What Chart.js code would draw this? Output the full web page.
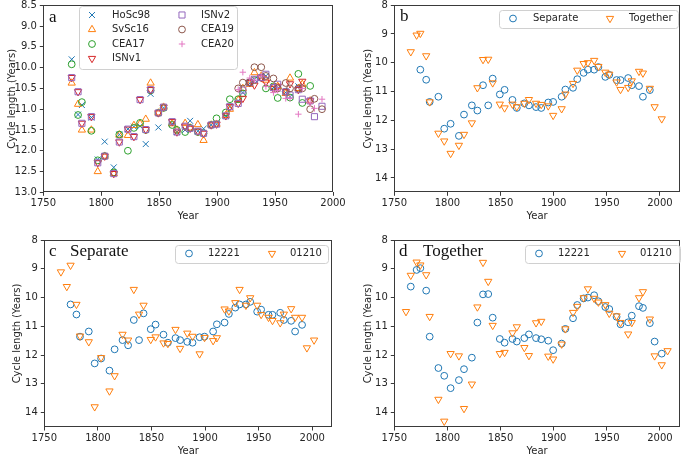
<!DOCTYPE html>
<html>
<head>
<meta charset="utf-8">
<script src="https://cdn.jsdelivr.net/npm/chart.js@4.4.1/dist/chart.umd.min.js"></script>
<style>
  html, body { margin: 0; padding: 0; background: #fff; }
  #wrap { position: relative; width: 685px; height: 456px; overflow: hidden; }
  canvas { position: absolute; }
</style>
</head>
<body>
<div id="wrap">
  <canvas id="chartA" width="350" height="228" style="left:0;top:0"></canvas>
  <canvas id="chartC" width="340" height="228" style="left:0;top:228px"></canvas>
  <canvas id="chartB" width="345" height="228" style="left:340px;top:0"></canvas>
  <canvas id="chartD" width="345" height="228" style="left:340px;top:228px"></canvas>
</div>
<script>
// years of the cycle markers, shared by all panels
const cycleYears = [1761, 1765.5, 1771, 1774.5, 1780, 1783.3, 1791.5, 1797, 1803, 1810.8,
  1815.6, 1823, 1828.2, 1833.5, 1838.4, 1842.6, 1849.3, 1853.8, 1861.2, 1865.3,
  1872.4, 1876.7, 1883.4, 1888.3, 1894.9, 1899.5, 1907.5, 1911, 1918.2, 1922.2,
  1928.2, 1932.2, 1938.1, 1942.1, 1948.6, 1952.3, 1959.2, 1962.9, 1970.1, 1973.5,
  1980.3, 1984, 1990.5, 1995, 2001.7, 2007.2];
const yearsSeparate = cycleYears.slice(3, 43);
const yearsTogether = cycleYears.slice(1, 45);
const yearsCEA = yearsSeparate.slice(25);

const yearTicks = [1750, 1800, 1850, 1900, 1950, 2000];
const lengthTicksA = [8.5, 9.0, 9.5, 10.0, 10.5, 11.0, 11.5, 12.0, 12.5, 13.0];
const lengthTicks = [8, 9, 10, 11, 12, 13, 14];

// panel a: published series
const hosc98 = [9.8, 11.13, 10.9, 11.2, 12.21, 11.78, 12.4, 11.61, 11.48, 11.42,
  11.41, 11.84, 10.63, 11.44, 10.97, 11.35, 11.55, 11.5, 11.28, 11.53,
  11.47, 11.38, 11.36, 11.16, 10.94, 10.8, 10.6, 10.38, 10.28, 10.24,
  10.2, 10.48, 10.5, 10.6, 10.7, 10.45, null, null, null, null];
const svsc16 = [10.37, 10.88, 11.5, 11.5, 12.5, 12.13, 12.55, 11.62, 11.63, 11.39,
  11.35, 11.24, 10.37, 11.09, 10.95, 11.35, 11.5, 11.34, 11.45, 11.37,
  11.75, 11.38, 11.36, 11.15, 11.0, 10.78, 10.5, 10.4, 10.12, 10.2,
  10.3, 10.48, 10.45, 10.62, 10.25, 10.5, 10.4, 10.8, null, null];
const cea17 = [9.92, 11.14, 10.83, 11.52, 12.23, 12.13, 12.52, 11.61, 12.0, 11.45,
  11.33, 11.5, 10.55, 11.09, 10.97, 11.38, 11.5, 11.55, 11.45, 11.55,
  11.58, 11.38, 11.22, 11.08, 10.76, 10.76, 10.62, 10.36, 10.3, 10.24,
  10.5, 10.45, 10.73, 10.58, 10.72, 10.15, 10.85, 10.44, null, null];
const isnv1 = [10.24, 10.58, 11.34, 11.18, 12.29, 12.13, 12.55, 11.79, 11.48, 11.66,
  10.77, 11.49, 10.53, 11.09, 10.95, 11.3, 11.55, 11.41, 11.46, 11.53,
  11.58, 11.38, 11.36, 11.16, 10.94, 10.86, 10.74, 10.36, 10.42, 10.24,
  10.35, 10.5, 10.45, 10.58, 10.39, 10.53, 10.33, 10.8, null, null];
const isnv2 = [10.24, 10.58, 11.34, 11.18, 12.29, 12.13, 12.55, 11.79, 11.48, 11.66,
  10.77, 11.49, 10.53, 11.09, 10.95, 11.3, 11.55, 11.41, 11.46, 11.53,
  11.58, 11.38, 11.36, 11.16, 10.94, 10.86, 10.54, 10.36, 10.28, 10.24,
  10.16, 10.48, 10.4, 10.58, 10.66, 10.53, 10.76, 10.8, 11.18, 10.93];
const cea19 = [10.5, 10.36, 10.35, 9.99, 9.99, 10.2, 10.26, 10.5, 10.37, 10.5, 10.5, 10.5, 11.0, 10.75, 11.0];
const cea20 = [10.53, 10.11, 10.25, 10.3, 10.2, 10.45, 10.6, 10.55, 10.74, 10.74, 11.12, 10.5, 10.85, 10.98, 10.76];

// panels b-d: 12221 weighting (separate / together) and 01210 weighting
const separate12221 = [10.24, 10.59, 11.36, 11.18, 12.29, 12.12, 12.54, 11.8, 11.48, 11.66,
  10.78, 11.48, 10.55, 11.1, 10.94, 11.29, 11.57, 11.41, 11.48, 11.54,
  11.57, 11.38, 11.36, 11.18, 10.93, 10.87, 10.57, 10.35, 10.24, 10.24,
  10.15, 10.49, 10.42, 10.6, 10.6, 10.53, 10.78, 10.81, 11.18, 10.95];
const together12221 = [9.62, 9.04, 8.98, 9.76, 11.36, 12.45, 12.72, 13.15, 12.87, 12.49,
  12.09, 10.87, 9.89, 9.88, 10.7, 11.44, 11.57, 11.44, 11.53, 11.41,
  11.28, 11.41, 11.45, 11.5, 11.83, 11.6, 11.09, 10.72, 10.26, 10.03,
  10.0, 9.92, 10.13, 10.33, 10.4, 10.67, 10.93, 10.86, 10.63, 10.3,
  10.36, 10.89, 11.53, 11.95];
const separate01210 = [9.11, 9.62, 8.88, 10.24, 11.34, 11.54, 13.8, 12.09, 13.25, 12.72,
  11.28, 11.48, 9.72, 10.58, 10.27, 11.46, 11.37, 11.58, 11.6, 11.11,
  11.77, 11.24, 11.35, 11.96, 11.39, 11.5, 11.4, 10.4, 10.47, 10.18,
  9.72, 10.27, 10.01, 10.27, 10.59, 10.69, 10.8, 10.88, 10.58, 10.39,
  10.69, 10.69, 11.75, 11.48];
const together01210 = [10.49, 9.23, 8.77, 8.87, 9.21, 10.66, 13.54, 14.3, 11.95, 12.03,
  13.86, 13.01, 10.33, 8.78, 9.44, 10.97, 11.95, 11.91, 11.23, 11.02,
  11.74, 12.02, 10.88, 10.83, 12.04, 12.14, 11.62, 11.09, 10.52, 10.31,
  10.01, 9.7, 10.03, 10.16, 10.25, 10.55, 10.64, 10.87, 11.27, 10.87,
  10.01, 9.8, 10.75, 12.03, 12.34, 11.85];

const textColor = '#262626';
const tickFont = { family: 'DejaVu Sans', size: 10 };

function toPoints(xs, ys) {
    return xs.map((x, i) => ({ x: x, y: ys[i] })).filter(p => p.y !== null);
}

// marker definitions (matplotlib-like hollow markers)
const markers = {
    x: { pointStyle: 'crossRot', radius: 4.2, rotation: 0 },
    up: { pointStyle: 'triangle', radius: 4.2, rotation: 0 },
    down: { pointStyle: 'triangle', radius: 4.2, rotation: 180 },
    o: { pointStyle: 'circle', radius: 3.4, rotation: 0 },
    s: { pointStyle: 'rect', radius: 4.3, rotation: 0 },
    plus: { pointStyle: 'cross', radius: 3.2, rotation: 0 }
};

function series(label, xs, ys, color, marker, order) {
    const m = markers[marker];
    return {
        label: label,
        data: toPoints(xs, ys),
        borderColor: color,
        backgroundColor: 'rgba(0,0,0,0)',
        pointStyle: m.pointStyle,
        pointRadius: m.radius,
        pointHoverRadius: m.radius,
        pointRotation: m.rotation,
        pointBorderWidth: 1,
        order: order
    };
}

// frame + legend + panel label
const decorPlugin = {
    id: 'decor',
    afterDraw(chart, args, opts) {
        const ctx = chart.ctx;
        const a = chart.chartArea;
        ctx.save();
        ctx.strokeStyle = '#3a3a3a';
        ctx.lineWidth = 1;
        ctx.strokeRect(Math.round(a.left) + 0.5, Math.round(a.top) + 0.5,
            Math.round(a.right - a.left) - 1, Math.round(a.bottom - a.top) - 1);

        if (opts.legend) {
            const b = opts.legend.box;
            ctx.fillStyle = 'rgba(255,255,255,0.8)';
            ctx.strokeStyle = '#d0d0d0';
            ctx.beginPath();
            ctx.roundRect(b[0] + 0.5, b[1] + 0.5, b[2], b[3], 3);
            ctx.fill();
            ctx.stroke();
            ctx.font = '10px "DejaVu Sans"';
            ctx.textBaseline = 'middle';
            ctx.textAlign = 'left';
            opts.legend.items.forEach(it => {
                const ds = chart.data.datasets[it.ds];
                ctx.strokeStyle = ds.borderColor;
                ctx.fillStyle = 'rgba(0,0,0,0)';
                ctx.lineWidth = 1;
                Chart.helpers.drawPoint(ctx, {
                    pointStyle: ds.pointStyle,
                    radius: ds.pointRadius,
                    rotation: ds.pointRotation,
                    borderWidth: 1
                }, it.mx, it.y);
                ctx.fillStyle = textColor;
                ctx.fillText(ds.label, it.tx, it.y);
            });
        }
        if (opts.labels) {
            ctx.fillStyle = '#111';
            ctx.textBaseline = 'middle';
            ctx.textAlign = 'left';
            opts.labels.forEach(l => {
                ctx.font = '17px "Liberation Serif"';
                ctx.fillText(l.text, l.x, l.y);
            });
        }
        ctx.restore();
    }
};

function makeChart(id, cfg) {
    const ctx = document.getElementById(id).getContext('2d');
    return new Chart(ctx, {
        type: 'scatter',
        data: { datasets: cfg.datasets },
        plugins: [decorPlugin],
        options: {
            responsive: false,
            devicePixelRatio: 1,
            animation: false,
            layout: { padding: { top: cfg.top, right: cfg.right, left: 0, bottom: 0 } },
            plugins: {
                legend: { display: false },
                tooltip: { enabled: false },
                decor: { legend: cfg.legend, labels: cfg.labels }
            },
            scales: {
                x: {
                    type: 'linear',
                    min: 1750,
                    max: cfg.xMax,
                    afterBuildTicks: s => { s.ticks = yearTicks.map(v => ({ value: v })); },
                    afterFit: s => {
                        s.height = cfg.xHeight;
                        s.paddingLeft = 0; s.paddingRight = 0;
                    },
                    ticks: {
                        font: tickFont, color: textColor, padding: 2,
                        maxRotation: 0, autoSkip: false,
                        callback: v => String(v)
                    },
                    grid: { drawOnChartArea: false, tickLength: 3.5, tickColor: '#3a3a3a' },
                    border: { display: false },
                    title: {
                        display: true, text: 'Year', font: tickFont, color: textColor,
                        padding: { top: 0, bottom: cfg.xTitlePad }
                    }
                },
                y: {
                    type: 'linear',
                    reverse: true,
                    min: cfg.yMin,
                    max: cfg.yMax,
                    afterBuildTicks: s => { s.ticks = cfg.yTicks.map(v => ({ value: v })); },
                    afterFit: s => {
                        s.width = cfg.yWidth;
                        s.paddingTop = 0; s.paddingBottom = 0;
                    },
                    ticks: {
                        font: tickFont, color: textColor, padding: 3, autoSkip: false,
                        callback: cfg.yFormat
                    },
                    grid: { drawOnChartArea: false, tickLength: 3.5, tickColor: '#3a3a3a' },
                    border: { display: false },
                    title: {
                        display: true, text: 'Cycle length (Years)', font: tickFont, color: textColor,
                        padding: { top: cfg.yTitlePad, bottom: 0 }
                    }
                }
            }
        }
    });
}

const C = {
    blue: '#1f77b4', orange: '#ff7f0e', green: '#2ca02c', red: '#d62728',
    purple: '#9467bd', brown: '#8c564b', pink: '#e377c2'
};

// a
makeChart('chartA', {
    datasets: [
        series('HoSc98', yearsSeparate, hosc98, C.blue, 'x', 7),
        series('SvSc16', yearsSeparate, svsc16, C.orange, 'up', 6),
        series('CEA17', yearsSeparate, cea17, C.green, 'o', 5),
        series('ISNv1', yearsSeparate, isnv1, C.red, 'down', 4),
        series('ISNv2', yearsSeparate, isnv2, C.purple, 's', 3),
        series('CEA19', yearsCEA, cea19, C.brown, 'o', 2),
        series('CEA20', yearsCEA, cea20, C.pink, 'plus', 1)
    ],
    top: 5, right: 17, xMax: 2000, xHeight: 35.7, yWidth: 43.3,
    yMin: 8.5, yMax: 13, yTicks: lengthTicksA, yFormat: v => v.toFixed(1),
    yTitlePad: 6, xTitlePad: 6,
    legend: {
        box: [79, 6, 158, 63],
        items: [
            { ds: 0, mx: 92, tx: 112, y: 15 },
            { ds: 1, mx: 92, tx: 112, y: 29.5 },
            { ds: 2, mx: 92, tx: 112, y: 44 },
            { ds: 3, mx: 92, tx: 112, y: 58.5 },
            { ds: 4, mx: 182, tx: 201, y: 15 },
            { ds: 5, mx: 182, tx: 201, y: 29.5 },
            { ds: 6, mx: 182, tx: 201, y: 44 }
        ]
    },
    labels: [{ text: 'a', x: 49, y: 18 }]
});

// b
makeChart('chartB', {
    datasets: [
        series('Separate', yearsSeparate, separate12221, C.blue, 'o', 2),
        series('Together', yearsTogether, together12221, C.orange, 'down', 1)
    ],
    top: 5, right: 1.7, xMax: 2018.7, xHeight: 35.7, yWidth: 54.3,
    yMin: 8, yMax: 14.5, yTicks: lengthTicks, yFormat: v => String(v),
    yTitlePad: 22, xTitlePad: 6,
    legend: {
        box: [159, 10, 179, 18],
        items: [
            { ds: 0, mx: 173, tx: 193, y: 18.5 },
            { ds: 1, mx: 270, tx: 289, y: 18.5 }
        ]
    },
    labels: [{ text: 'b', x: 60, y: 17 }]
});

// c
makeChart('chartC', {
    datasets: [
        series('12221', yearsSeparate, separate12221, C.blue, 'o', 2),
        series('01210', yearsTogether, separate01210, C.orange, 'down', 1)
    ],
    top: 12, right: 7.7, xMax: 2018.7, xHeight: 29, yWidth: 44.3,
    yMin: 8, yMax: 14.5, yTicks: lengthTicks, yFormat: v => String(v),
    yTitlePad: 11, xTitlePad: -1,
    legend: {
        box: [175, 17, 153, 18],
        items: [
            { ds: 0, mx: 189, tx: 208, y: 25.5 },
            { ds: 1, mx: 272, tx: 290, y: 25.5 }
        ]
    },
    labels: [{ text: 'c', x: 49, y: 24 }, { text: 'Separate', x: 70, y: 24 }]
});

// d
makeChart('chartD', {
    datasets: [
        series('12221', yearsTogether, together12221, C.blue, 'o', 2),
        series('01210', cycleYears, together01210, C.orange, 'down', 1)
    ],
    top: 12, right: 2, xMax: 2018.7, xHeight: 29, yWidth: 54.3,
    yMin: 8, yMax: 14.5, yTicks: lengthTicks, yFormat: v => String(v),
    yTitlePad: 22, xTitlePad: -1,
    legend: {
        box: [185, 17, 155, 18],
        items: [
            { ds: 0, mx: 199, tx: 218, y: 25.5 },
            { ds: 1, mx: 282, tx: 300, y: 25.5 }
        ]
    },
    labels: [{ text: 'd', x: 59, y: 24 }, { text: 'Together', x: 83, y: 24 }]
});
</script>
</body>
</html>
